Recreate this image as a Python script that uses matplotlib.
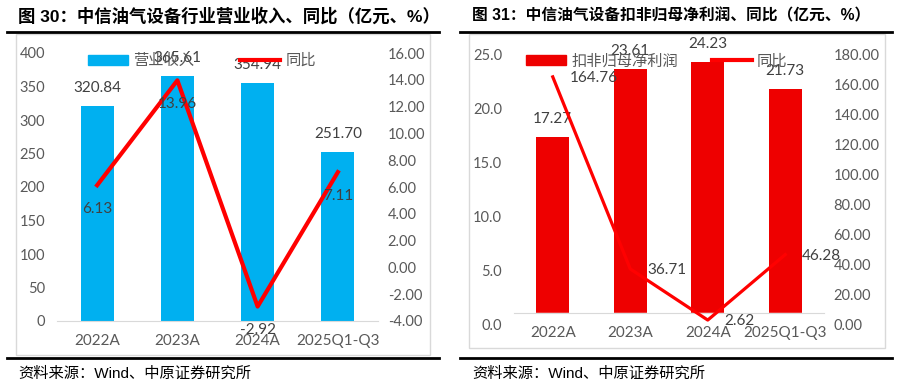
import numpy as np
import matplotlib.pyplot as plt
from matplotlib.patches import Rectangle, Patch
from matplotlib.lines import Line2D
from matplotlib.ticker import FormatStrFormatter

# =========================
# DATA
# =========================
categories = ["2022A", "2023A", "2024A", "2025Q1-Q3"]

revenue = [320.84, 365.61, 354.94, 251.70]
revenue_yoy = [6.13, 13.96, -2.92, 7.11]

profit = [17.27, 23.61, 24.23, 21.73]
profit_yoy = [164.76, 36.71, 2.62, 46.28]

title_left = "图 30：中信油气设备行业营业收入、同比（亿元、%）"
title_right = "图 31：中信油气设备扣非归母净利润、同比（亿元、%）"
source_text = "资料来源：Wind、中原证券研究所"

# =========================
# STYLE
# =========================
W, H = 906, 389
BLUE = "#00B0F0"
RED_BAR = "#EE0000"
RED_LINE = "#FF0000"
TICK_C = "#595959"
LABEL_C = "#404040"
GRID_C = "#D9D9D9"
NUM_FONT = ["Lato", "Noto Sans CJK SC"]
CJK_FONT = ["Liberation Sans", "Noto Sans CJK SC"]

plt.rcParams["font.family"] = NUM_FONT


def fx(px):
    return px / W


def fy(py):
    return 1 - py / H


fig = plt.figure(figsize=(W / 100, H / 100), dpi=100)


def frame(x0, x1, box_x0, box_x1, box_y1, title, tx, tsize):
    fig.text(fx(tx), fy(16), title, fontsize=tsize, fontweight="bold",
             family=CJK_FONT, va="center", ha="left")
    fig.add_artist(Line2D([fx(x0), fx(x1)], [fy(32), fy(32)], color="black", lw=2))
    fig.add_artist(Line2D([fx(x0), fx(x1)], [fy(358), fy(358)], color="black", lw=2))
    fig.add_artist(Rectangle((fx(box_x0), fy(box_y1)), fx(box_x1 - box_x0), fy(34) - fy(box_y1),
                             fill=False, edgecolor=GRID_C, lw=1))
    fig.text(fx(tx), fy(374), source_text, fontsize=11, family=CJK_FONT,
             va="center", ha="left", color="black")


def style_axes(ax, ax2, left_fmt, right_fmt):
    for a in (ax, ax2):
        for s in ("top", "left", "right", "bottom"):
            a.spines[s].set_visible(False)
        a.tick_params(length=0, labelsize=10.5, labelcolor=TICK_C)
    ax.spines["bottom"].set_visible(True)
    ax.spines["bottom"].set_color(GRID_C)
    ax.yaxis.set_major_formatter(FormatStrFormatter(left_fmt))
    ax2.yaxis.set_major_formatter(FormatStrFormatter(right_fmt))
    ax.tick_params(axis="y", pad=8.5)
    ax2.tick_params(axis="y", pad=7)
    ax.tick_params(axis="x", pad=9.5, labelsize=11)


x = np.arange(len(categories))

# =========================
# LEFT PANEL
# =========================
frame(7, 439, 16, 430, 355, title_left, 18, 12.5)

axL = fig.add_axes([fx(57), fy(321), fx(321), fy(53) - fy(321)])
axL.bar(x, revenue, width=0.41, color=BLUE, zorder=2)
axL.set_xlim(-0.5, 3.5)
axL.set_ylim(0, 400)
axL.set_yticks(np.arange(0, 401, 50))
axL.set_xticks(x, categories)
for xi, v in zip(x, revenue):
    axL.annotate(f"{v:.2f}", (xi, v), xytext=(0, 13), textcoords="offset points",
                 ha="center", va="center", fontsize=11, color=LABEL_C)

axL2 = axL.twinx()
axL2.plot(x, revenue_yoy, color=RED_LINE, lw=3, zorder=3)
axL2.set_ylim(-4, 16)
axL2.set_yticks(np.arange(-4, 17, 2))
for xi, v in zip(x, revenue_yoy):
    axL2.annotate(f"{v:.2f}", (xi, v), xytext=(0, -17), textcoords="offset points",
                  ha="center", va="center", fontsize=11, color=LABEL_C)
style_axes(axL, axL2, "%d", "%.2f")

hL = [Patch(color=BLUE), Line2D([], [], color=RED_LINE, lw=3)]
legL = axL2.legend(hL, ["营业收入", "同比"], ncol=2, frameon=False, loc="center",
                   bbox_to_anchor=(0.452, 0.97), handlelength=2.6, handleheight=0.7,
                   handletextpad=0.35, columnspacing=3.0, borderpad=0,
                   prop={"family": CJK_FONT, "size": 11})
for t in legL.get_texts():
    t.set_color(TICK_C)

# =========================
# RIGHT PANEL
# =========================
frame(460, 892, 469, 885, 348, title_right, 472, 11.3)

BASE = 1.0  # category axis sits slightly above zero in the source chart
axR = fig.add_axes([fx(514), fy(324), fx(310), fy(54) - fy(324)])
axR.bar(x, profit, width=0.42, color=RED_BAR, zorder=2)
axR.axhspan(0, BASE, color="white", zorder=2.5)
axR.set_xlim(-0.5, 3.5)
axR.set_ylim(0, 25)
axR.set_yticks(np.arange(0, 26, 5))
axR.set_xticks(x, categories)
for xi, v in zip(x, profit):
    axR.annotate(f"{v:.2f}", (xi, v), xytext=(0, 13), textcoords="offset points",
                 ha="center", va="center", fontsize=11, color=LABEL_C)

axR2 = axR.twinx()
axR2.plot(x, profit_yoy, color=RED_LINE, lw=2.3, zorder=3)
axR2.set_ylim(0, 180)
axR2.set_yticks(np.arange(0, 181, 20))
for xi, v in zip(x, profit_yoy):
    axR2.annotate(f"{v:.2f}", (xi, v), xytext=(12, -1), textcoords="offset points",
                  ha="left", va="center", fontsize=11, color=LABEL_C)
style_axes(axR, axR2, "%.1f", "%.2f")
axR.spines["bottom"].set_position(("data", BASE))

hR = [Patch(color=RED_BAR), Line2D([], [], color=RED_LINE, lw=3)]
legR = axR2.legend(hR, ["扣非归母净利润", "同比"], ncol=2, frameon=False, loc="center",
                   bbox_to_anchor=(0.461, 0.974), handlelength=2.6, handleheight=0.7,
                   handletextpad=0.35, columnspacing=2.2, borderpad=0,
                   prop={"family": CJK_FONT, "size": 11})
for t in legR.get_texts():
    t.set_color(TICK_C)

fig.savefig("out.png", dpi=100)
